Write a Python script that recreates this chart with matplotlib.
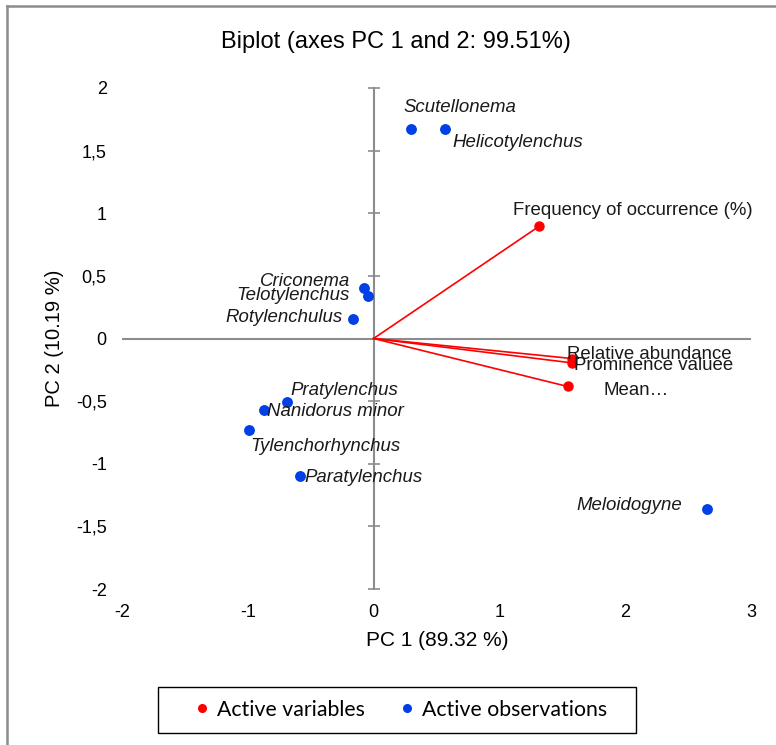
import numpy as np
import matplotlib
matplotlib.use("Agg")
import matplotlib.pyplot as plt
from matplotlib.lines import Line2D
from matplotlib.patches import Rectangle
from matplotlib.ticker import FuncFormatter

# Active observations (PC1, PC2)
obs_names = ['Scutellonema', 'Helicotylenchus', 'Criconema', 'Telotylenchus',
             'Rotylenchulus', 'Pratylenchus', 'Nanidorus minor',
             'Tylenchorhynchus', 'Paratylenchus', 'Meloidogyne']
obs_pc1 = [0.30, 0.565, -0.08, -0.048, -0.167, -0.688, -0.873, -0.993, -0.588, 2.65]
obs_pc2 = [1.67, 1.67, 0.40, 0.343, 0.158, -0.508, -0.567, -0.727, -1.096, -1.365]

# Active variables (PC1, PC2)
var_names = ['Frequency of occurrence (%)', 'Relative abundance',
             'Prominence valuee', 'Mean…']
var_pc1 = [1.316, 1.578, 1.58, 1.542]
var_pc2 = [0.896, -0.16, -0.195, -0.383]

xticks = [-2, -1, 0, 1, 2, 3]
yticks = [-2, -1.5, -1, -0.5, 0, 0.5, 1, 1.5, 2]

# label offsets in pixels (dx, dy, horizontal alignment)
obs_lab = [(-8, 22, 'left'), (8, -13, 'left'), (-13, 7, 'right'), (-18, 0, 'right'),
           (-10, 1, 'right'), (3, 12, 'left'), (3, -2, 'left'), (2, -17, 'left'),
           (5, -2, 'left'), (-25, 4, 'right')]
var_lab = [(-26, 16, 'left'), (-5, 4, 'left'), (2, -3, 'left'), (36, -4, 'left')]

W, H = 776, 745
RED = '#FF0000'
BLUE = '#0040E6'
GRAY = '#8C8C8C'
ARIAL = 'Liberation Sans'

fig = plt.figure(figsize=(W / 100, H / 100), dpi=100)
ax = fig.add_axes([122 / W, 1 - 589 / H, (751 - 122) / W, (589 - 88) / H])
ax.set_xlim(-2, 3)
ax.set_ylim(-2, 2)
for s in ax.spines.values():
    s.set_visible(False)

fmt = FuncFormatter(lambda v, _: f"{v:g}".replace('.', ','))
ax.set_xticks(xticks)
ax.set_yticks(yticks)
ax.xaxis.set_major_formatter(fmt)
ax.yaxis.set_major_formatter(fmt)
ax.tick_params(length=0, labelsize=13, pad=11)
for lab in ax.get_xticklabels() + ax.get_yticklabels():
    lab.set_fontfamily(ARIAL)

# axes through the origin
ax.axhline(0, color=GRAY, lw=1.5, zorder=1)
sec = ax.secondary_yaxis(0.4)
sec.set_yticks(yticks)
sec.tick_params(direction='inout', length=9, width=1.2, color=GRAY, labelleft=False)
sec.spines['left'].set_color(GRAY)
sec.spines['left'].set_linewidth(1.5)

# variable vectors
for x, y in zip(var_pc1, var_pc2):
    ax.plot([0, x], [0, y], color=RED, lw=1.2, zorder=2)
ax.plot(var_pc1, var_pc2, 'o', color=RED, ms=6.5, zorder=3)
for name, x, y, (dx, dy, ha) in zip(var_names, var_pc1, var_pc2, var_lab):
    ax.annotate(name, (x, y), xytext=(dx, dy), textcoords='offset pixels',
                ha=ha, va='center', fontsize=13.4, family=ARIAL, color='#1a1a1a')

# observations
ax.plot(obs_pc1, obs_pc2, 'o', color=BLUE, ms=6.8, zorder=3)
for name, x, y, (dx, dy, ha) in zip(obs_names, obs_pc1, obs_pc2, obs_lab):
    ax.annotate(name, (x, y), xytext=(dx, dy), textcoords='offset pixels',
                ha=ha, va='center', fontsize=13.4, family=ARIAL, style='italic',
                color='#1a1a1a')

# titles
fig.text(396 / W, 1 - 42 / H, 'Biplot (axes PC 1 and 2: 99.51%)', ha='center',
         va='center', fontsize=17, family=ARIAL)
fig.text(437 / W, 1 - 640 / H, 'PC 1 (89.32 %)', ha='center', va='center',
         fontsize=15, family=ARIAL)
fig.text(55 / W, 1 - 338 / H, 'PC 2 (10.19 %)', ha='center', va='center',
         rotation=90, fontsize=14.5, family=ARIAL)

# legend
handles = [Line2D([], [], ls='', marker='o', color=RED, ms=5.5),
           Line2D([], [], ls='', marker='o', color=BLUE, ms=5.5)]
fig.legend(handles, ['Active variables', 'Active observations'], ncol=2,
           loc='center', bbox_to_anchor=(398 / W, 1 - 709.5 / H),
           frameon=False, prop={'family': 'Lato', 'size': 15.3}, handletextpad=0.1,
           handlelength=1.2, columnspacing=1.4)
fig.add_artist(Rectangle((158 / W, 1 - 733 / H), (636 - 158) / W, 46 / H,
                         transform=fig.transFigure, fill=False, edgecolor='black',
                         lw=1.0))

# outer chart border (left and top visible)
fig.add_artist(Line2D([7 / W, 7 / W], [0, 1 - 6 / H], transform=fig.transFigure,
                      color=GRAY, lw=1.8))
fig.add_artist(Line2D([7 / W, 1], [1 - 6 / H, 1 - 6 / H], transform=fig.transFigure,
                      color=GRAY, lw=1.8))

fig.savefig('out.png', dpi=100)
